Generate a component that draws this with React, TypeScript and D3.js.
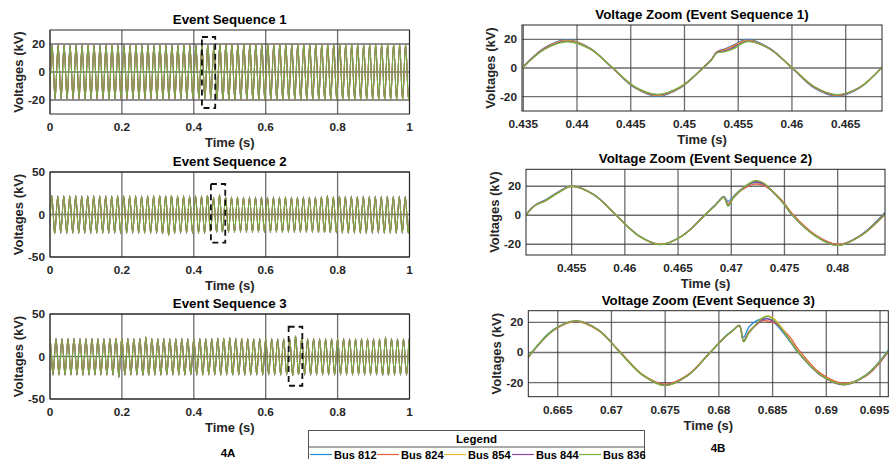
import React from "react";
import * as d3 from "d3";

// ---------- data ----------
const buses = ["Bus 812", "Bus 824", "Bus 854", "Bus 844", "Bus 836"];
const busColors = ["#1f8ad6", "#e0603a", "#f0b93a", "#8f45a3", "#78b03a"];
const busScale = [1.01, 1.0, 0.99, 0.985, 0.975];

const nominalHz = 60;
// phase of first upward zero crossing, in cycles, per event sequence
const seqPhaseCycles = [0.1, 0.045, -0.25];

const seq1Peaks = [19.5,19.6,19.5,19.5,19.6,19.5,19.5,19.6,19.5,19.5,19.6,19.5,19.5,19.6,19.5,19.5,19.6,19.5,19.5,19.6,19.5,19.5,19.6,19.5,19.5,19.6,19.4,19.2,19.9,20.2,20.3,20.2,20.3,20.3,20.2,20.3,20.3,20.2,20.3,20.3,20.2,20.3,20.3,20.2,20.3,20.3,20.2,20.3,20.3,20.2,20.3,20.3,20.2,20.3,20.3,20.2,20.3,20.3,20.2,20.3];
const seq1Troughs = [-19.6,-19.5,-19.6,-19.6,-19.5,-19.6,-19.6,-19.5,-19.6,-19.6,-19.5,-19.6,-19.6,-19.5,-19.6,-19.6,-19.5,-19.6,-19.6,-19.5,-19.6,-19.6,-19.5,-19.6,-19.6,-19.5,-19.2,-19.3,-20.0,-20.3,-20.4,-20.3,-20.4,-20.4,-20.3,-20.4,-20.4,-20.3,-20.4,-20.4,-20.3,-20.4,-20.4,-20.3,-20.4,-20.4,-20.3,-20.4,-20.4,-20.3,-20.4,-20.4,-20.3,-20.4,-20.4,-20.3,-20.4,-20.4,-20.3,-20.4];

const seq2Peaks = [22.3,21.8,22.0,21.9,22.2,21.8,22.0,22.1,21.9,22.0,21.8,22.2,22.0,21.9,22.1,21.8,22.0,22.2,21.9,21.5,22.0,21.9,22.1,21.8,22.0,21.9,22.0,20.0,23.5,20.6,20.5,20.7,20.4,20.6,20.5,20.6,20.4,20.6,20.5,20.7,20.5,20.4,20.6,20.5,20.6,21.2,22.4,20.8,21.4,21.3,21.5,21.2,21.4,21.3,21.5,21.2,21.4,21.3,21.4,21.2];
const seq2Troughs = [-22.2,-22.0,-22.3,-22.1,-22.0,-22.2,-22.3,-22.0,-22.1,-22.2,-22.0,-22.3,-22.1,-22.0,-22.2,-22.1,-22.3,-22.0,-22.6,-24.5,-22.4,-22.1,-22.0,-22.2,-22.1,-22.3,-20.0,-20.5,-20.3,-21.0,-21.1,-20.9,-21.0,-21.2,-21.0,-20.9,-21.1,-21.0,-21.2,-20.9,-21.0,-21.1,-21.0,-20.9,-21.1,-21.0,-21.2,-21.5,-22.0,-22.1,-21.9,-22.0,-22.2,-22.0,-21.9,-22.1,-22.0,-22.2,-21.9,-22.0];

const seq3Peaks = [21.0,21.1,20.9,21.0,21.2,21.0,20.9,21.1,21.0,21.0,21.1,20.9,21.0,21.2,21.0,21.1,23.0,21.0,20.9,21.1,21.0,21.0,21.1,20.9,21.0,21.1,21.0,21.2,21.4,21.6,22.0,21.5,21.3,21.1,21.0,21.2,21.0,21.1,20.9,21.0,21.0,24.0,21.2,21.0,21.1,20.9,21.0,21.2,21.0,21.1,20.9,21.0,21.1,21.0,21.2,21.0,23.0,21.1,21.0,21.0];
const seq3Troughs = [-21.8,-21.7,-21.9,-21.8,-21.7,-21.9,-21.8,-21.8,-21.7,-21.9,-21.8,-24.5,-21.9,-21.7,-21.8,-21.9,-21.7,-21.8,-21.9,-21.7,-21.8,-21.8,-21.9,-21.7,-21.8,-21.9,-21.7,-21.8,-21.9,-21.7,-21.8,-21.8,-21.9,-21.7,-21.8,-21.9,-21.7,-21.8,-21.9,-21.7,-22.0,-21.0,-21.8,-21.9,-21.7,-21.8,-21.8,-21.9,-21.7,-21.8,-21.9,-21.7,-21.8,-21.9,-21.7,-21.8,-21.8,-21.9,-21.7,-21.8];

// zoom windows (time in s, voltages in kV), one value array per bus
const zoom1Time = [0.43488, 0.437, 0.4391, 0.4412, 0.4433, 0.4454, 0.4475, 0.4496, 0.4517, 0.4525, 0.453, 0.4537, 0.4545, 0.4558, 0.4579, 0.46, 0.4621, 0.4642, 0.4663, 0.46838];
const zoom1Bus812 = [0, 14.2, 19.8, 13.9, 0, -14.0, -19.8, -14.0, 0, 6.0, 11.2, 13.2, 15.8, 19.9, 13.9, 0, -14.0, -19.6, -14.0, 0.8];
const zoom1Bus824 = [0, 13.9, 19.4, 13.7, 0, -13.8, -19.4, -13.8, 0, 5.9, 11.0, 12.8, 15.4, 19.5, 13.7, 0, -13.8, -19.3, -13.8, 0.6];
const zoom1Bus854 = [-0.1, 13.6, 19.0, 13.5, 0.1, -13.5, -19.0, -13.5, -0.1, 5.7, 10.8, 12.3, 14.8, 19.1, 13.6, 0.1, -13.5, -19.0, -13.6, 0.5];
const zoom1Bus844 = [-0.2, 13.4, 18.8, 13.4, 0.2, -13.4, -18.8, -13.4, -0.2, 5.6, 10.7, 11.9, 14.2, 18.8, 13.5, 0.2, -13.3, -18.8, -13.5, 0.4];
const zoom1Bus836 = [-0.3, 13.1, 18.3, 13.3, 0.3, -13.2, -18.4, -13.2, -0.3, 5.5, 10.5, 11.3, 13.2, 18.3, 13.4, 0.3, -13.1, -18.6, -13.4, 0.3];

const zoom2Time = [0.45071, 0.4512, 0.4517, 0.4525, 0.4537, 0.455, 0.4571, 0.4592, 0.4613, 0.4633, 0.4654, 0.4675, 0.4685, 0.4693, 0.4697, 0.4702, 0.471, 0.4722, 0.473, 0.474, 0.475, 0.4757, 0.4779, 0.48, 0.4821, 0.48445];
const zoom2Bus812 = [0, 4.8, 7.8, 10.4, 16.0, 20.2, 14.2, 0, -14.0, -20.0, -14.1, 0.2, 7.2, 13.0, 9.5, 13.0, 18.5, 22.5, 21.5, 15.5, 7.5, 0.3, -14.0, -20.3, -14.0, 2.0];
const zoom2Bus824 = [0, 4.6, 7.6, 10.1, 15.6, 20.0, 14.0, -0.2, -14.2, -20.0, -14.3, -0.2, 6.8, 12.6, 8.0, 12.2, 17.5, 21.5, 20.6, 15.8, 8.2, 1.5, -13.4, -20.0, -14.6, 0.5];
const zoom2Bus854 = [0, 4.5, 7.5, 10.0, 15.5, 20.0, 14.1, 0, -14.1, -20.1, -14.1, 0, 7.0, 12.5, 7.5, 12.2, 18.2, 23.5, 22.2, 15.6, 7.6, 0.6, -14.0, -20.5, -14.2, 1.5];
const zoom2Bus844 = [0, 4.5, 7.4, 9.9, 15.4, 19.9, 14.1, 0, -14.1, -20.2, -14.1, 0, 6.9, 12.4, 7.0, 12.0, 18.0, 23.0, 22.0, 15.4, 7.4, 0.4, -14.2, -20.8, -14.3, 1.2];
const zoom2Bus836 = [0, 4.4, 7.3, 9.8, 15.3, 19.9, 14.0, 0, -14.2, -20.3, -14.2, -0.1, 6.8, 12.3, 6.2, 11.8, 18.0, 23.8, 22.4, 15.5, 7.4, 0.4, -14.3, -21.0, -14.5, 0.8];

const zoom3Time = [0.66226, 0.6646, 0.6667, 0.6688, 0.6708, 0.6729, 0.675, 0.6771, 0.6792, 0.6806, 0.6813, 0.6819, 0.6823, 0.6828, 0.6835, 0.684, 0.6846, 0.6852, 0.686, 0.6867, 0.6874, 0.6895, 0.6916, 0.6937, 0.69577];
const zoom3Bus812 = [-2.8, 15.2, 20.6, 14.8, 0.2, -14.8, -21.5, -15.2, 0.2, 10.8, 14.8, 18.0, 10.0, 17.0, 21.0, 22.2, 22.5, 19.5, 13.0, 6.5, -0.3, -15.2, -21.0, -14.8, 1.5];
const zoom3Bus824 = [-3.2, 14.6, 20.5, 14.5, 0.5, -14.6, -21.0, -14.8, 0.3, 10.3, 14.5, 17.8, 7.5, 14.0, 18.5, 21.0, 20.8, 19.5, 15.0, 9.5, 2.0, -14.0, -20.3, -15.5, 0.5];
const zoom3Bus854 = [-3.0, 14.8, 20.8, 14.8, 0, -15.0, -21.8, -15.2, 0, 10.4, 14.5, 17.9, 8.0, 13.5, 19.0, 22.8, 24.2, 22.0, 15.0, 7.5, 0.3, -15.0, -21.3, -15.2, 1.0];
const zoom3Bus844 = [-3.1, 14.8, 20.9, 14.9, 0.1, -15.1, -21.8, -15.3, 0, 10.4, 14.5, 17.9, 7.8, 13.2, 18.5, 21.5, 22.2, 20.0, 14.0, 7.2, 0, -15.2, -21.5, -15.2, 0.8];
const zoom3Bus836 = [-3.0, 15.0, 21.0, 14.8, 0, -15.0, -22.0, -15.3, 0, 10.5, 14.5, 18.0, 7.0, 13.0, 19.0, 22.5, 24.0, 21.0, 14.0, 7.0, 0, -15.0, -21.2, -15.0, 1.2];

// dashed zoom-region markers on the full-time plots: [t0, t1, v0, v1]
const seq1Marker = [0.4226, 0.4596, -25.7, 25.0];
const seq2Marker = [0.4476, 0.4875, -33.2, 35.9];
const seq3Marker = [0.6638, 0.7019, -34.4, 35.0];

const fullTimeTicks = [0, 0.2, 0.4, 0.6, 0.8, 1];
const seq1VoltTicks = [-20, 0, 20];
const seqVoltTicks = [-50, 0, 50];
const zoomVoltTicks = [-20, 0, 20];
const zoom1TimeTicks = [0.435, 0.44, 0.445, 0.45, 0.455, 0.46, 0.465];
const zoom2TimeTicks = [0.455, 0.46, 0.465, 0.47, 0.475, 0.48];
const zoom3TimeTicks = [0.665, 0.67, 0.675, 0.68, 0.685, 0.69, 0.695];

// ---------- helpers ----------
const FONT = "'Liberation Sans', Arial, Helvetica, sans-serif";
const fmt = (d: number) => String(+d.toFixed(3));
const PAGE_W = 892;

type Geom = { left: number; right: number; top: number; bottom: number };

function cyclePoints(peaks: number[], troughs: number[], phase: number, scale: number) {
  const pts: [number, number][] = [];
  for (let k = -1; k <= peaks.length; k++) {
    const idx = Math.max(0, Math.min(peaks.length - 1, k));
    const t0 = (k + phase) / nominalHz;
    pts.push([t0, 0]);
    pts.push([t0 + 0.25 / nominalHz, peaks[idx] * scale]);
    pts.push([t0 + 0.5 / nominalHz, 0]);
    pts.push([t0 + 0.75 / nominalHz, troughs[idx] * scale]);
  }
  return pts;
}

function Panel(props: {
  id: string;
  g: Geom;
  xDomain: [number, number];
  yDomain: [number, number];
  xTicks: number[];
  yTicks: number[];
  title: string;
  series: [number, number][][];
  curve: d3.CurveFactory;
  lineWidth: number;
  marker?: number[];
}) {
  const { id, g, xDomain, yDomain, xTicks, yTicks, title, series, curve, lineWidth, marker } = props;
  const x = d3.scaleLinear().domain(xDomain).range([g.left, g.right]);
  const y = d3.scaleLinear().domain(yDomain).range([g.bottom, g.top]);
  const line = d3
    .line<[number, number]>()
    .x((d) => x(d[0]))
    .y((d) => y(d[1]))
    .curve(curve);
  const cx = (g.left + g.right) / 2;
  const cy = (g.top + g.bottom) / 2;
  const tickFs = 11.8;
  return (
    <g>
      <defs>
        <clipPath id={id}>
          <rect x={g.left} y={g.top} width={g.right - g.left} height={g.bottom - g.top} />
        </clipPath>
      </defs>
      <rect x={g.left} y={g.top} width={g.right - g.left} height={g.bottom - g.top} fill="#fff" />
      {xTicks.map((t) => (
        <line key={"gx" + t} x1={x(t)} x2={x(t)} y1={g.top} y2={g.bottom} stroke="#3c3c3c" strokeOpacity={0.75} strokeWidth={1.3} />
      ))}
      {yTicks.map((t) => (
        <line key={"gy" + t} x1={g.left} x2={g.right} y1={y(t)} y2={y(t)} stroke="#3c3c3c" strokeOpacity={0.75} strokeWidth={1.3} />
      ))}
      <g clipPath={`url(#${id})`}>
        {series.map((s, i) => (
          <path key={i} d={line(s) || ""} fill="none" stroke={busColors[i]} strokeWidth={lineWidth} strokeLinejoin="round" />
        ))}
        {marker && (
          <rect
            x={x(marker[0])}
            y={y(marker[3])}
            width={x(marker[1]) - x(marker[0])}
            height={y(marker[2]) - y(marker[3])}
            fill="none"
            stroke="#111"
            strokeWidth={1.8}
            strokeDasharray="6,4"
          />
        )}
      </g>
      <rect x={g.left} y={g.top} width={g.right - g.left} height={g.bottom - g.top} fill="none" stroke="#262626" strokeWidth={1} />
      {xTicks.map((t) => {
        const label = fmt(t);
        const half = label.length * tickFs * 0.28;
        const px = Math.min(x(t), PAGE_W - 1 - half);
        return (
          <text key={"tx" + t} x={px} y={g.bottom + 17} textAnchor="middle" fontSize={tickFs} fontWeight="bold" fill="#262626" fontFamily={FONT}>
            {label}
          </text>
        );
      })}
      {yTicks.map((t) => (
        <text key={"ty" + t} x={g.left - 5} y={y(t) + 4} textAnchor="end" fontSize={tickFs} fontWeight="bold" fill="#262626" fontFamily={FONT}>
          {fmt(t)}
        </text>
      ))}
      <text x={cx} y={g.bottom + 33} textAnchor="middle" fontSize={13} fontWeight="bold" fill="#262626" fontFamily={FONT}>
        Time (s)
      </text>
      <text
        transform={`translate(${g.left - 27},${cy}) rotate(-90)`}
        textAnchor="middle"
        fontSize={13}
        fontWeight="bold"
        fill="#262626"
        fontFamily={FONT}
      >
        Voltages (kV)
      </text>
      <text x={cx} y={g.top - 6} textAnchor="middle" fontSize={13.3} fontWeight="bold" fill="#000" fontFamily={FONT}>
        {title}
      </text>
    </g>
  );
}

function zip(t: number[], v: number[]): [number, number][] {
  return t.map((ti, i) => [ti, v[i]]);
}

export default function App() {
  const leftSeq = [
    { peaks: seq1Peaks, troughs: seq1Troughs },
    { peaks: seq2Peaks, troughs: seq2Troughs },
    { peaks: seq3Peaks, troughs: seq3Troughs },
  ];
  const leftSeries = leftSeq.map((s, si) =>
    busScale.map((sc) => cyclePoints(s.peaks, s.troughs, seqPhaseCycles[si], sc))
  );
  const zoom1 = [zoom1Bus812, zoom1Bus824, zoom1Bus854, zoom1Bus844, zoom1Bus836].map((v) => zip(zoom1Time, v));
  const zoom2 = [zoom2Bus812, zoom2Bus824, zoom2Bus854, zoom2Bus844, zoom2Bus836].map((v) => zip(zoom2Time, v));
  const zoom3 = [zoom3Bus812, zoom3Bus824, zoom3Bus854, zoom3Bus844, zoom3Bus836].map((v) => zip(zoom3Time, v));
  const cr = d3.curveCatmullRom.alpha(0.5);

  const legendX = [310, 377, 444, 512, 579];

  return (
    <svg width={892} height={459} style={{ position: "absolute", left: 0, top: 0, background: "#fff" }} fontFamily={FONT}>
      <rect width={892} height={459} fill="#fff" />
      <Panel id="c1" g={{ left: 50, right: 409.5, top: 30, bottom: 114 }} xDomain={[0, 1]} yDomain={[-30, 30]} xTicks={fullTimeTicks} yTicks={seq1VoltTicks} title="Event Sequence 1" series={leftSeries[0]} curve={d3.curveNatural} lineWidth={1.05} marker={seq1Marker} />
      <Panel id="c2" g={{ left: 50, right: 409.5, top: 172, bottom: 257 }} xDomain={[0, 1]} yDomain={[-50, 50]} xTicks={fullTimeTicks} yTicks={seqVoltTicks} title="Event Sequence 2" series={leftSeries[1]} curve={d3.curveNatural} lineWidth={1.05} marker={seq2Marker} />
      <Panel id="c3" g={{ left: 50, right: 409.5, top: 314, bottom: 399 }} xDomain={[0, 1]} yDomain={[-50, 50]} xTicks={fullTimeTicks} yTicks={seqVoltTicks} title="Event Sequence 3" series={leftSeries[2]} curve={d3.curveNatural} lineWidth={1.05} marker={seq3Marker} />
      <Panel id="c4" g={{ left: 522, right: 882, top: 25, bottom: 111 }} xDomain={[0.43488, 0.46838]} yDomain={[-30, 30]} xTicks={zoom1TimeTicks} yTicks={zoomVoltTicks} title="Voltage Zoom (Event Sequence 1)" series={zoom1} curve={cr} lineWidth={1.3} />
      <Panel id="c5" g={{ left: 526, right: 885, top: 169.3, bottom: 255 }} xDomain={[0.45071, 0.48445]} yDomain={[-27.4, 31.7]} xTicks={zoom2TimeTicks} yTicks={zoomVoltTicks} title="Voltage Zoom (Event Sequence 2)" series={zoom2} curve={cr} lineWidth={1.3} />
      <Panel id="c6" g={{ left: 528.3, right: 888.3, top: 310.7, bottom: 396.7 }} xDomain={[0.66226, 0.69577]} yDomain={[-29.3, 27.7]} xTicks={zoom3TimeTicks} yTicks={zoomVoltTicks} title="Voltage Zoom (Event Sequence 3)" series={zoom3} curve={cr} lineWidth={1.3} />

      {/* legend */}
      <rect x={308.5} y={430.5} width={336} height={40} fill="#fff" stroke="#555" strokeWidth={1} />
      <line x1={308.5} x2={644.5} y1={447} y2={447} stroke="#555" strokeWidth={1} />
      <text x={476.5} y={442.5} textAnchor="middle" fontSize={11.5} fontWeight="bold" fill="#000">
        Legend
      </text>
      {buses.map((b, i) => (
        <g key={b}>
          <line x1={legendX[i]} x2={legendX[i] + 22} y1={454.5} y2={454.5} stroke={busColors[i]} strokeWidth={1.2} />
          <text x={legendX[i] + 24} y={458.5} fontSize={11.1} fontWeight="bold" fill="#000">
            {b}
          </text>
        </g>
      ))}
      <text x={228} y={457} textAnchor="middle" fontSize={11.5} fontWeight="bold" fill="#000">
        4A
      </text>
      <text x={718} y={452} textAnchor="middle" fontSize={11.5} fontWeight="bold" fill="#000">
        4B
      </text>
    </svg>
  );
}
